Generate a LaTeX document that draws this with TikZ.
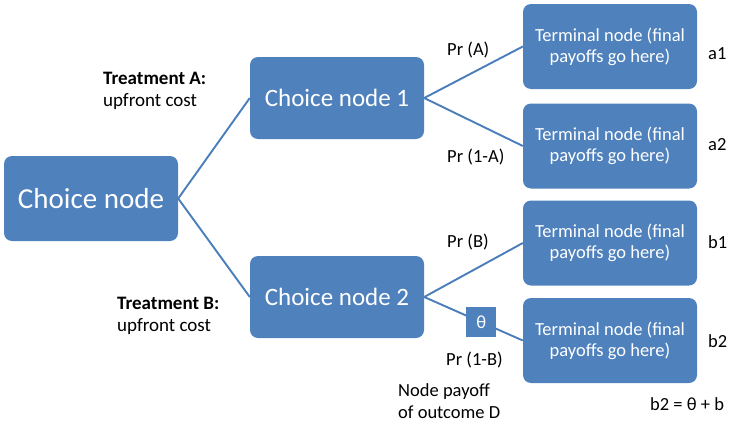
\documentclass[tikz,border=0pt]{standalone}
\usepackage{fontspec}
\setmainfont{Carlito}
\usepackage{xcolor}
\usepackage{tikz}
\definecolor{boxblue}{HTML}{4F81BD}
\definecolor{lineblue}{HTML}{4A7EBB}
\begin{document}
\begin{tikzpicture}[x=1pt,y=-1pt,every node/.style={inner sep=0pt},choice/.style={rectangle,rounded corners=8pt,fill=boxblue,text=white,minimum width=174pt},terminal/.style={choice,minimum height=85pt,align=center,font=\fontsize{18.5}{21}\selectfont},lbl/.style={anchor=west,font=\fontsize{18.5}{22.5}\selectfont},thetabox/.style={rectangle,fill=boxblue,text=white,minimum size=30pt,font=\fontsize{18.5}{22}\selectfont},branch/.style={draw=lineblue,line width=1.9pt}]
\useasboundingbox (0,0) rectangle (733,423);
\node[choice,minimum height=85pt,font=\fontsize{29}{35}\selectfont] (root) at (91,198.5) {Choice node};
\node[choice,minimum height=82pt,font=\fontsize{25}{30}\selectfont] (cn1) at (337,98) {Choice node 1};
\node[choice,minimum height=82pt,font=\fontsize{25}{30}\selectfont] (cn2) at (337,297) {Choice node 2};
\node[terminal] (t1) at (610,46.5) {Terminal node (final\\payoffs go here)};
\node[terminal] (t2) at (610,146) {Terminal node (final\\payoffs go here)};
\node[terminal] (t3) at (610,243) {Terminal node (final\\payoffs go here)};
\node[terminal] (t4) at (610,340.5) {Terminal node (final\\payoffs go here)};
\draw[branch] (root.east) -- (cn1.west);
\draw[branch] (root.east) -- (cn2.west);
\draw[branch] (cn1.east) -- (t1.west);
\draw[branch] (cn1.east) -- (t2.west);
\draw[branch] (cn2.east) -- (t3.west);
\draw[branch] (cn2.east) -- node[thetabox,pos=0.58] (theta) {θ} (t4.west);
\node[lbl,align=left,font=\fontsize{19}{22}\selectfont] (trtA) at (103,91) {\textbf{Treatment A:}\\upfront cost};
\node[lbl,align=left,font=\fontsize{19}{22}\selectfont] (trtB) at (117,316) {\textbf{Treatment B:}\\upfront cost};
\node[lbl] (prA) at (447,50) {Pr (A)};
\node[lbl] (prnA) at (447,157) {Pr (1-A)};
\node[lbl] (prB) at (447,242) {Pr (B)};
\node[lbl] (prnB) at (446,360) {Pr (1-B)};
\node[lbl,align=left] (payoff) at (398,401) {Node payoff\\of outcome D};
\node[lbl] (a1) at (708,54) {a1};
\node[lbl] (a2) at (708,145) {a2};
\node[lbl] (b1) at (708,242) {b1};
\node[lbl] (b2) at (708,341) {b2};
\node[lbl] (beq) at (650,404) {b2 = θ + b};
\end{tikzpicture}
\end{document}
